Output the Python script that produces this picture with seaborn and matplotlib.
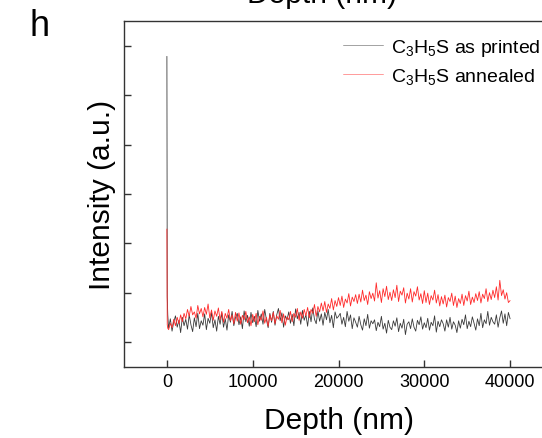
import numpy as np
import pandas as pd
import matplotlib
matplotlib.use("Agg")
import matplotlib.pyplot as plt
from matplotlib.lines import Line2D
import seaborn as sns

# ---------------- data ----------------
depth_head = [0, 40, 100]
depth_step = 200
depth_end = 40000

printed_head = [5.79, 0.92, 0.55]
printed = [
    0.28, 0.47, 0.22, 0.41, 0.53, 0.30, 0.44, 0.19, 0.50, 0.33,
    0.46, 0.26, 0.55, 0.35, 0.21, 0.49, 0.31, 0.58, 0.27, 0.43,
    0.34, 0.57, 0.25, 0.48, 0.38, 0.60, 0.29, 0.45, 0.22, 0.52,
    0.36, 0.59, 0.30, 0.47, 0.24, 0.55, 0.40, 0.62, 0.33, 0.50,
    0.58, 0.35, 0.51, 0.27, 0.63, 0.41, 0.54, 0.32, 0.60, 0.39,
    0.52, 0.31, 0.64, 0.42, 0.57, 0.36, 0.66, 0.45, 0.29, 0.58,
    0.40, 0.62, 0.34, 0.55, 0.68, 0.43, 0.59, 0.30, 0.53, 0.45,
    0.61, 0.38, 0.56, 0.33, 0.67, 0.47, 0.60, 0.36, 0.64, 0.44,
    0.55, 0.32, 0.62, 0.41, 0.69, 0.46, 0.37, 0.63, 0.42, 0.57,
    0.34, 0.60, 0.45, 0.66, 0.39, 0.54, 0.29, 0.61, 0.48, 0.52,
    0.58, 0.36, 0.50, 0.31, 0.62, 0.42, 0.55, 0.27, 0.49, 0.40,
    0.30, 0.52, 0.35, 0.24, 0.47, 0.33, 0.56, 0.28, 0.43, 0.37,
    0.45, 0.23, 0.40, 0.31, 0.52, 0.26, 0.38, 0.18, 0.44, 0.30,
    0.25, 0.43, 0.32, 0.49, 0.21, 0.38, 0.28, 0.46, 0.15, 0.36,
    0.41, 0.27, 0.47, 0.30, 0.22, 0.44, 0.35, 0.51, 0.26, 0.39,
    0.29, 0.48, 0.24, 0.40, 0.33, 0.53, 0.20, 0.42, 0.31, 0.45,
    0.37, 0.22, 0.45, 0.30, 0.50, 0.26, 0.41, 0.34, 0.19, 0.43,
    0.28, 0.46, 0.35, 0.55, 0.27, 0.42, 0.31, 0.51, 0.38, 0.24,
    0.47, 0.33, 0.58, 0.29, 0.45, 0.37, 0.62, 0.34, 0.50, 0.41,
    0.36, 0.55, 0.30, 0.49, 0.63, 0.38, 0.57, 0.33, 0.60, 0.47,
]

annealed_head = [2.29, 0.35, 0.28]
annealed = [
    0.25, 0.38, 0.29, 0.46, 0.33, 0.50, 0.37, 0.55, 0.41, 0.58,
    0.47, 0.66, 0.52, 0.72, 0.55, 0.61, 0.48, 0.74, 0.57, 0.68,
    0.51, 0.70, 0.56, 0.77, 0.49, 0.65, 0.44, 0.63, 0.52, 0.69,
    0.45, 0.62, 0.40, 0.58, 0.48, 0.66, 0.43, 0.55, 0.37, 0.60,
    0.42, 0.59, 0.36, 0.54, 0.45, 0.62, 0.39, 0.51, 0.33, 0.56,
    0.41, 0.58, 0.35, 0.52, 0.44, 0.63, 0.38, 0.50, 0.32, 0.55,
    0.43, 0.60, 0.37, 0.53, 0.46, 0.64, 0.39, 0.57, 0.34, 0.51,
    0.45, 0.62, 0.41, 0.58, 0.50, 0.68, 0.44, 0.61, 0.48, 0.66,
    0.53, 0.70, 0.49, 0.66, 0.58, 0.76, 0.52, 0.72, 0.61, 0.79,
    0.63, 0.82, 0.60, 0.77, 0.68, 0.88, 0.65, 0.84, 0.72, 0.90,
    0.74, 0.93, 0.70, 0.87, 0.79, 0.98, 0.73, 0.91, 0.82, 0.96,
    0.78, 0.97, 0.81, 1.05, 0.84, 0.95, 0.76, 1.02, 0.88, 0.99,
    0.83, 1.20, 0.89, 1.04, 0.80, 1.08, 0.92, 1.13, 0.86, 1.01,
    0.84, 1.06, 0.90, 1.15, 0.82, 1.03, 0.95, 1.10, 0.79, 0.99,
    0.87, 1.08, 0.81, 1.02, 0.93, 1.12, 0.85, 0.98, 0.78, 1.04,
    0.80, 0.99, 0.76, 0.94, 0.85, 1.05, 0.79, 0.96, 0.73, 0.92,
    0.77, 0.95, 0.71, 0.90, 0.82, 0.99, 0.74, 0.93, 0.70, 0.88,
    0.78, 0.97, 0.74, 0.94, 0.83, 1.03, 0.76, 0.91, 0.80, 0.98,
    0.84, 1.02, 0.79, 0.97, 0.88, 1.08, 0.82, 1.00, 0.86, 1.05,
    0.90, 1.12, 0.85, 1.25, 0.94, 1.06, 0.87, 1.00, 0.80, 0.84,
]

series_names = [r"C$_3$H$_5$S as printed", r"C$_3$H$_5$S annealed"]
series_colors = ["#3a3a3a", "#ff2a2a"]
x_ticks = [0, 10000, 20000, 30000, 40000]
y_ticks = [0, 1, 2, 3, 4, 5, 6]

# ---------------- build table ----------------
depth = depth_head + list(range(depth_step, depth_end + 1, depth_step))
df = pd.concat([
    pd.DataFrame({"Depth": depth, "Intensity": printed_head + printed, "Sample": series_names[0]}),
    pd.DataFrame({"Depth": depth, "Intensity": annealed_head + annealed, "Sample": series_names[1]}),
], ignore_index=True)

# ---------------- style ----------------
sns.set_style("ticks")
plt.rcParams["font.family"] = ["Liberation Sans", "DejaVu Sans"]
plt.rcParams["mathtext.fontset"] = "custom"
plt.rcParams["mathtext.rm"] = "Liberation Sans"
plt.rcParams["mathtext.it"] = "Liberation Sans:italic"
plt.rcParams["mathtext.bf"] = "Liberation Sans:bold"
for k in ["text.color", "axes.labelcolor", "xtick.labelcolor", "ytick.labelcolor"]:
    plt.rcParams[k] = "black"

W, H = 542, 439
fig = plt.figure(figsize=(W / 100, H / 100), dpi=100)
left, right, top, bottom = 124, 553, 22, 368
ax = fig.add_axes([left / W, 1 - bottom / H, (right - left) / W, (bottom - top) / H])

sns.lineplot(data=df, x="Depth", y="Intensity", hue="Sample", palette=series_colors,
             estimator=None, sort=False, linewidth=0.6, ax=ax, legend=False)

ax.set_xlim(-5000, 45000)
ax.set_ylim(-0.507, 6.507)
ax.set_xticks(x_ticks)
ax.set_xticklabels([str(t) for t in x_ticks])
ax.set_yticks(y_ticks)
ax.set_yticklabels([""] * len(y_ticks))
ax.tick_params(axis="both", direction="in", length=5, width=1.0, color="#333333",
               labelsize=13, pad=4, top=False, right=False)
for s in ax.spines.values():
    s.set_color("#333333")
    s.set_linewidth(1.0)

ax.set_xlabel("Depth (nm)", fontsize=21.5, labelpad=12)
ax.set_ylabel("Intensity (a.u.)", fontsize=21.5, labelpad=2)

handles = [Line2D([], [], color=c, linewidth=0.6, alpha=0.55) for c in series_colors]
ax.legend(handles, series_names, loc="upper left", bbox_to_anchor=(343 / W, 1 - 38 / H),
          bbox_transform=fig.transFigure, frameon=False, fontsize=14, borderpad=0,
          borderaxespad=0, handlelength=2.06, handletextpad=0.41, labelspacing=0.42)

# panel label and cut-off label from the panel above
fig.text(30 / W, 1 - 36 / H, "h", fontsize=26, ha="left", va="baseline")
fig.text(322 / W, 1 - 3 / H, "Depth (nm)", fontsize=21.5, ha="center", va="baseline")

fig.savefig("out.png", dpi=100)
